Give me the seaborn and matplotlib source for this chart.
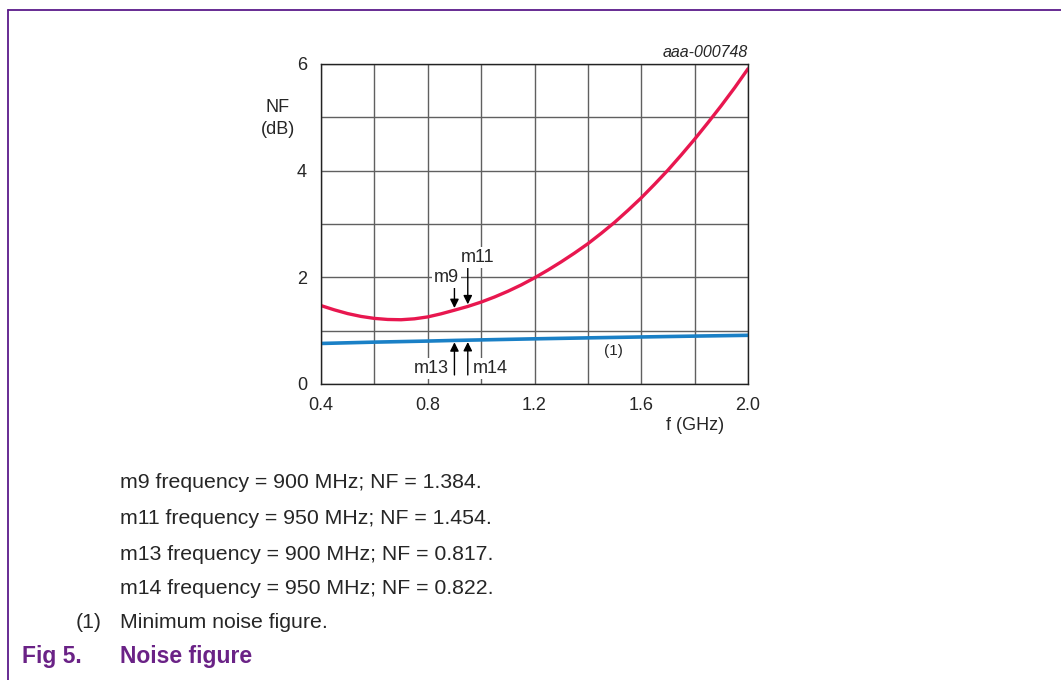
import matplotlib
matplotlib.use("Agg")
import matplotlib.pyplot as plt
from matplotlib.lines import Line2D
from matplotlib.ticker import MultipleLocator
import seaborn as sns
import pandas as pd

# noise figure (red)
freq_nf = [0.4, 0.45, 0.5, 0.55, 0.6, 0.65, 0.7, 0.75, 0.8, 0.85, 0.9, 0.95, 1.0,
           1.05, 1.1, 1.15, 1.2, 1.25, 1.3, 1.35, 1.4, 1.45, 1.5, 1.55, 1.6,
           1.65, 1.7, 1.75, 1.8, 1.85, 1.9, 1.95, 2.0]
nf_db = [1.47, 1.39, 1.32, 1.267, 1.23, 1.21, 1.205, 1.222, 1.258, 1.316, 1.384, 1.454, 1.536,
         1.631, 1.738, 1.857, 1.99, 2.135, 2.29, 2.455, 2.63, 2.825, 3.03, 3.255, 3.49,
         3.745, 4.01, 4.295, 4.59, 4.9, 5.22, 5.555, 5.91]

# minimum noise figure (blue)
freq_min = [0.4, 0.6, 0.8, 0.9, 0.95, 1.0, 1.2, 1.4, 1.6, 1.8, 2.0]
nf_min_db = [0.76, 0.785, 0.805, 0.817, 0.822, 0.827, 0.847, 0.865, 0.882, 0.898, 0.913]

# markers
marker_names = ["m9", "m11", "m13", "m14"]
marker_freq = [0.9, 0.95, 0.9, 0.95]
marker_nf = [1.384, 1.454, 0.817, 0.822]

x_ticks = [0.4, 0.8, 1.2, 1.6, 2.0]
y_ticks = [0, 2, 4, 6]

sns.set_style("white")
plt.rcParams['font.family'] = ['Liberation Sans', 'DejaVu Sans']

df_nf = pd.DataFrame({"f": freq_nf, "nf": nf_db})
df_min = pd.DataFrame({"f": freq_min, "nf": nf_min_db})

fig = plt.figure(figsize=(10.61, 6.8), dpi=100)
ax = fig.add_axes([321 / 1061, 1 - 384 / 680, 427 / 1061, 320 / 680])

grid_col = "#606060"
ax.set_xlim(0.4, 2.0)
ax.set_ylim(0, 6)
ax.xaxis.set_minor_locator(MultipleLocator(0.2))
ax.yaxis.set_minor_locator(MultipleLocator(1))
ax.set_xticks(x_ticks)
ax.set_yticks(y_ticks)
ax.set_xticklabels(["%.1f" % v for v in x_ticks])
ax.grid(True, which="both", color=grid_col, lw=1)
ax.set_axisbelow(True)
ax.tick_params(which="both", length=0, labelsize=13)
ax.tick_params(axis="x", pad=9)
ax.tick_params(axis="y", pad=10)
for s in ax.spines.values():
    s.set_color("#222222")
    s.set_linewidth(1)

sns.lineplot(data=df_min, x="f", y="nf", ax=ax, color="#1a80c6", lw=2.6)
sns.lineplot(data=df_nf, x="f", y="nf", ax=ax, color="#e8174f", lw=2.4)
ax.set_xlabel("")
ax.set_ylabel("")

# arrows + labels
arrow_kw = dict(arrowstyle="-|>", color="black", lw=1, mutation_scale=13, shrinkA=0, shrinkB=0)
label_pos = {"m9": (0.871, 2.0), "m11": (0.985, 2.37), "m13": (0.813, 0.29), "m14": (1.035, 0.29)}
for name, f, v in zip(marker_names, marker_freq, marker_nf):
    if v > 1:
        tail, tip = (2.2 if name == "m11" else 1.82), v + 0.04
    else:
        tail, tip = 0.17, v - 0.035
    ax.annotate("", xy=(f, tip), xytext=(f, tail), arrowprops=arrow_kw)
    lx, ly = label_pos[name]
    ax.text(lx, ly, name, ha="center", va="center", fontsize=13,
            bbox=dict(facecolor="white", edgecolor="none", pad=1.5))

ax.text(1.495, 0.61, "(1)", ha="center", va="center", fontsize=11)
ax.text(2.0, 6.08, "aaa-000748", ha="right", va="bottom", fontsize=11.5, style="italic")

fig.text(278 / 1061, 1 - 108 / 680, "NF", ha="center", va="center", fontsize=13)
fig.text(278 / 1061, 1 - 129 / 680, "(dB)", ha="center", va="center", fontsize=13)
fig.text(695 / 1061, 1 - 425 / 680, "f (GHz)", ha="center", va="center", fontsize=13)

# notes below the chart
notes = ["m9 frequency = 900 MHz; NF = 1.384.",
         "m11 frequency = 950 MHz; NF = 1.454.",
         "m13 frequency = 900 MHz; NF = 0.817.",
         "m14 frequency = 950 MHz; NF = 0.822."]
note_y = [482, 518, 554, 589]
for t, y in zip(notes, note_y):
    fig.text(120 / 1061, 1 - y / 680, t, ha="left", va="center", fontsize=15.3)
fig.text(76 / 1061, 1 - 622 / 680, "(1)", ha="left", va="center", fontsize=15.3)
fig.text(120 / 1061, 1 - 622 / 680, "Minimum noise figure.", ha="left", va="center", fontsize=15.3)

purple = "#6a2286"
fig.text(22 / 1061, 1 - 656 / 680, "Fig 5.", ha="left", va="center", fontsize=16.5,
         fontweight="bold", color=purple)
fig.text(120 / 1061, 1 - 656 / 680, "Noise figure", ha="left", va="center", fontsize=16.5,
         fontweight="bold", color=purple)

# frame lines
fig.add_artist(Line2D([8 / 1061, 1], [1 - 10 / 680, 1 - 10 / 680], color="#5b1a8a", lw=1.3))
fig.add_artist(Line2D([8 / 1061, 8 / 1061], [0, 1 - 10 / 680], color="#5b1a8a", lw=1.3))

fig.savefig("out.png", dpi=100)
